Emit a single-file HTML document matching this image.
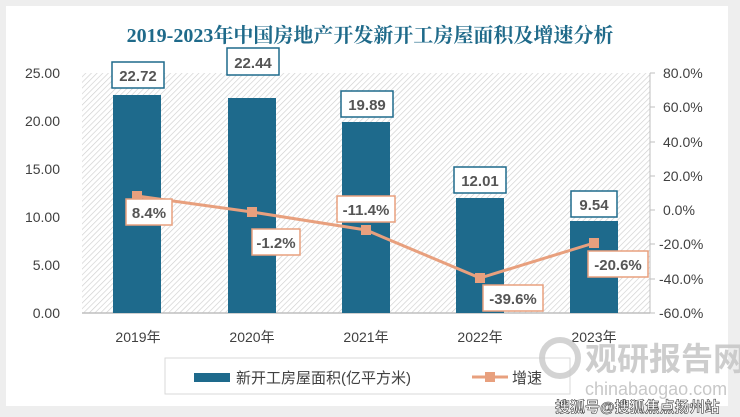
<!DOCTYPE html>
<html><head><meta charset="utf-8"><style>
body{margin:0;background:#f0f0f0;}
svg{display:block;font-family:"Liberation Sans","Noto Sans CJK SC",sans-serif;}
</style></head><body>
<svg width="740" height="417" viewBox="0 0 740 417">
<defs>
<pattern id="h" width="4" height="4" patternUnits="userSpaceOnUse" patternTransform="rotate(45)">
<rect width="4" height="4" fill="#fff"/><line x1="0" y1="0" x2="0" y2="4" stroke="#cfcfcf" stroke-width="1.3"/>
</pattern>
</defs>
<rect x="0" y="0" width="740" height="417" fill="#eeeeee"/>
<rect x="6" y="6" width="722" height="400" fill="#fff"/>
<text x="370" y="42" text-anchor="middle" font-family="Liberation Serif,'Noto Serif CJK SC',serif" font-weight="bold" font-size="20" fill="#1f6a8a">2019-2023年中国房地产开发新开工房屋面积及增速分析</text>
<rect x="82" y="73" width="568" height="240" fill="url(#h)"/>
<line x1="82" y1="313" x2="650" y2="313" stroke="#bfbfbf" stroke-width="1.5"/>
<line x1="650" y1="73" x2="650" y2="313" stroke="#bfbfbf"/>
<g stroke="#bfbfbf"><line x1="650" y1="73" x2="655" y2="73"/><line x1="650" y1="107" x2="655" y2="107"/><line x1="650" y1="142" x2="655" y2="142"/><line x1="650" y1="176" x2="655" y2="176"/><line x1="650" y1="210" x2="655" y2="210"/><line x1="650" y1="244" x2="655" y2="244"/><line x1="650" y1="279" x2="655" y2="279"/><line x1="650" y1="313" x2="655" y2="313"/></g>
<g font-size="14" fill="#404040" text-anchor="end">
<text x="60" y="78">25.00</text><text x="60" y="126">20.00</text><text x="60" y="174">15.00</text><text x="60" y="222">10.00</text><text x="60" y="270">5.00</text><text x="60" y="318">0.00</text>
</g>
<g font-size="14" fill="#404040" text-anchor="start">
<text x="663" y="78">80.0%</text><text x="663" y="112">60.0%</text><text x="663" y="147">40.0%</text><text x="663" y="181">20.0%</text><text x="663" y="215">0.0%</text><text x="659" y="249">-20.0%</text><text x="659" y="284">-40.0%</text><text x="659" y="318">-60.0%</text>
</g>
<g fill="#1e6a8c">
<rect x="113" y="95" width="48" height="218"/>
<rect x="228" y="98" width="48" height="215"/>
<rect x="342" y="122" width="48" height="191"/>
<rect x="456" y="198" width="48" height="115"/>
<rect x="570" y="221" width="48" height="92"/>
</g>
<g font-size="15" font-weight="bold" fill="#555" text-anchor="middle">
<rect x="112" y="62" width="52" height="26" fill="#fff" stroke="#1e6a8c" stroke-width="1.5"/><text x="138" y="81">22.72</text>
<rect x="227" y="48" width="52" height="27" fill="#fff" stroke="#1e6a8c" stroke-width="1.5"/><text x="253" y="68">22.44</text>
<rect x="341" y="91" width="52" height="26" fill="#fff" stroke="#1e6a8c" stroke-width="1.5"/><text x="367" y="110">19.89</text>
<rect x="454" y="167" width="52" height="26" fill="#fff" stroke="#1e6a8c" stroke-width="1.5"/><text x="480" y="186">12.01</text>
<rect x="571" y="191" width="46" height="26" fill="#fff" stroke="#1e6a8c" stroke-width="1.5"/><text x="594" y="210">9.54</text>
</g>
<polyline points="137,196 252,212 366,230 480,278 594,243" fill="none" stroke="#e8a07e" stroke-width="3"/>
<g fill="#e8a07e"><rect x="132" y="191" width="10" height="10"/><rect x="247" y="207" width="10" height="10"/><rect x="361" y="225" width="10" height="10"/><rect x="475" y="273" width="10" height="10"/><rect x="589" y="238" width="10" height="10"/></g>
<g font-size="15" font-weight="bold" fill="#555" text-anchor="middle">
<rect x="126" y="199" width="46" height="26" fill="#fff" stroke="#e8a07e" stroke-width="1.5"/><text x="149" y="218">8.4%</text>
<rect x="252" y="229" width="48" height="26" fill="#fff" stroke="#e8a07e" stroke-width="1.5"/><text x="276" y="248">-1.2%</text>
<rect x="337" y="196" width="58" height="26" fill="#fff" stroke="#e8a07e" stroke-width="1.5"/><text x="366" y="215">-11.4%</text>
<rect x="483" y="285" width="60" height="26" fill="#fff" stroke="#e8a07e" stroke-width="1.5"/><text x="513" y="304">-39.6%</text>
<rect x="588" y="251" width="60" height="26" fill="#fff" stroke="#e8a07e" stroke-width="1.5"/><text x="618" y="270">-20.6%</text>
</g>
<g font-size="14" fill="#404040" text-anchor="middle">
<text x="138" y="342">2019年</text><text x="252" y="342">2020年</text><text x="366" y="342">2021年</text><text x="480" y="342">2022年</text><text x="594" y="342">2023年</text>
</g>
<rect x="165" y="358" width="405" height="36" fill="#fff" stroke="#d9d9d9"/>
<rect x="194" y="373" width="36" height="9" fill="#1e6a8c"/>
<text x="236" y="383" font-size="15" fill="#404040">新开工房屋面积(亿平方米)</text>
<line x1="472" y1="377" x2="508" y2="377" stroke="#e8a07e" stroke-width="3"/>
<rect x="485" y="372" width="10" height="10" fill="#e8a07e"/>
<text x="512" y="383" font-size="15" fill="#404040">增速</text>
<circle cx="560" cy="358" r="18" fill="none" stroke="#c8c8c8" stroke-width="6" opacity="0.8"/>
<text x="585" y="370" font-size="32" font-weight="bold" fill="#c8c8c8" opacity="0.9">观研报告网</text>
<text x="585" y="395" font-size="18" fill="#c8c8c8">chinabaogao.com</text>
<text x="555" y="412" font-size="15" font-weight="bold" fill="#fff" stroke="#444" stroke-width="0.6">搜狐号@搜狐焦点扬州站</text>
</svg>
</body></html>
